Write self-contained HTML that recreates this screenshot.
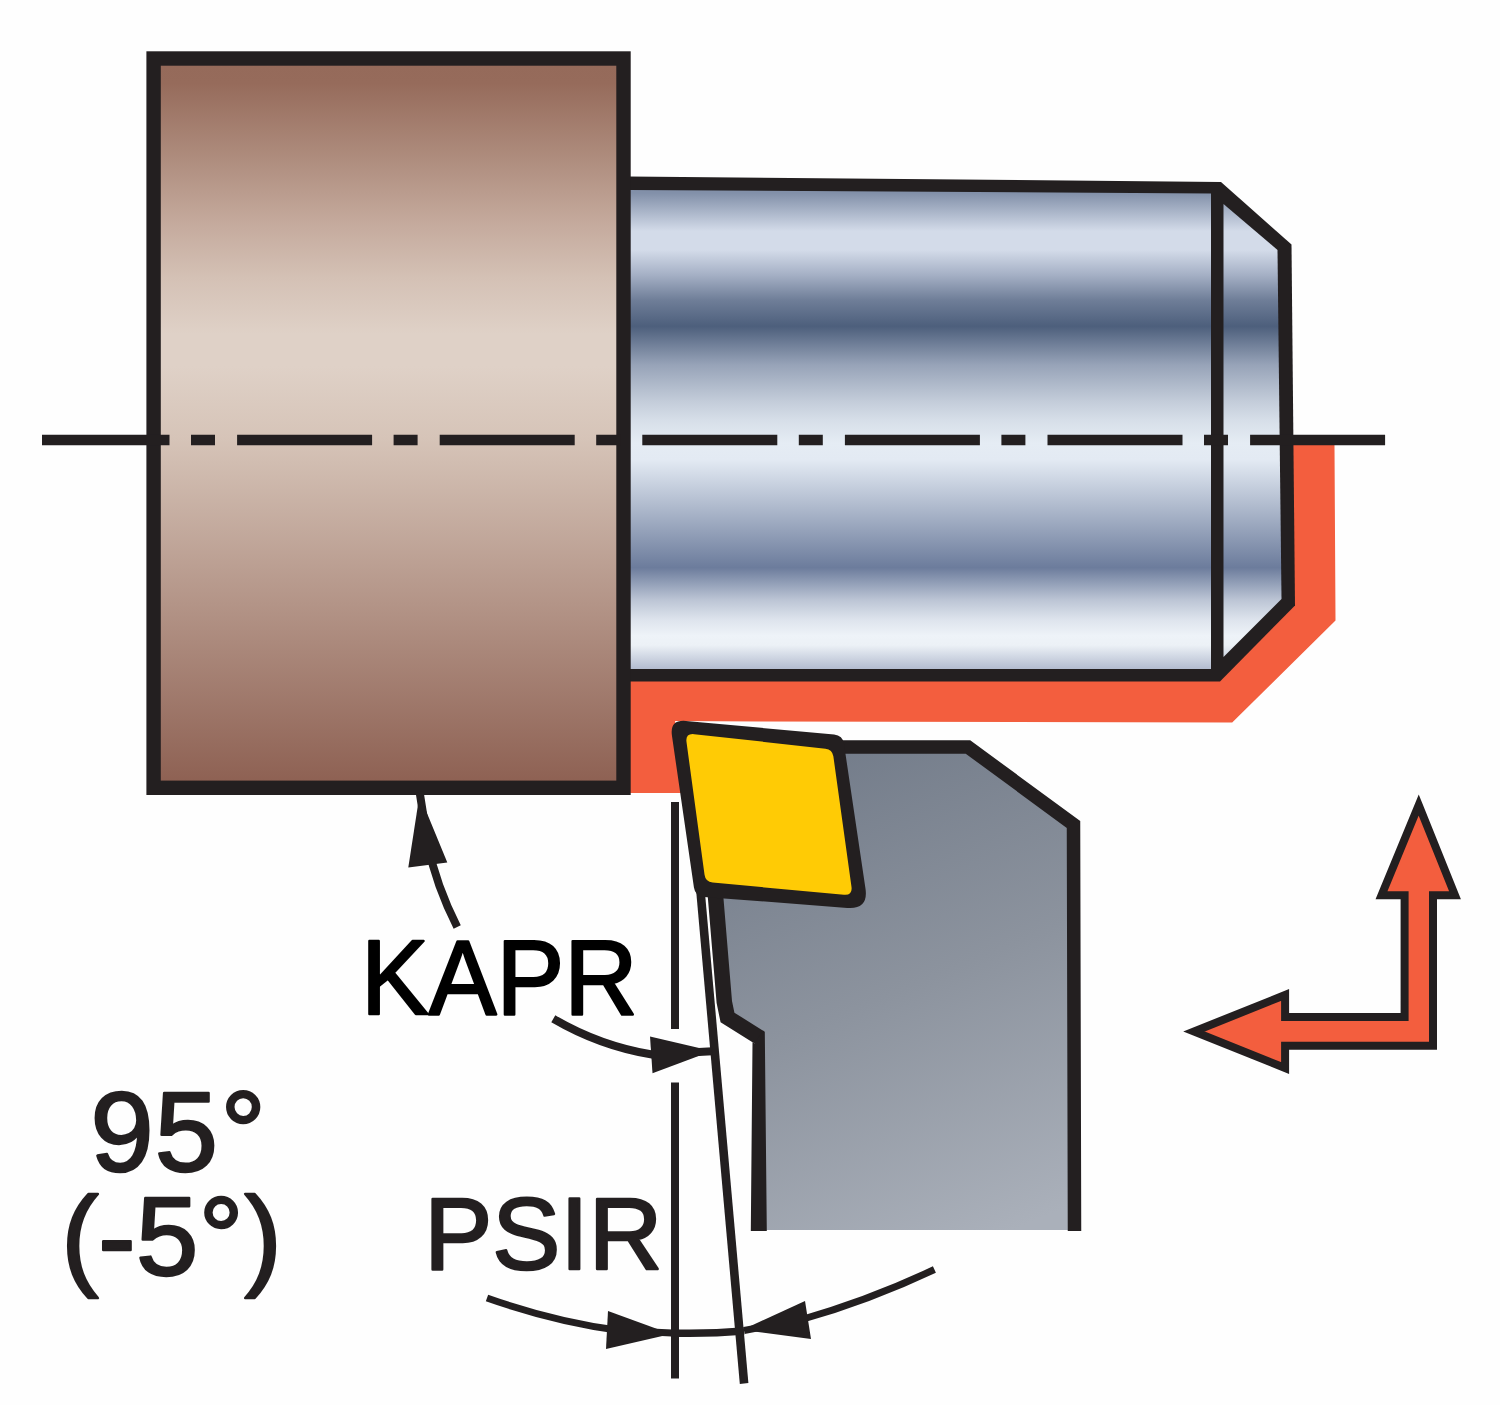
<!DOCTYPE html>
<html>
<head>
<meta charset="utf-8">
<title>KAPR / PSIR 95° (-5°)</title>
<style>
html,body{margin:0;padding:0;background:#fefefe;}
body{width:1500px;height:1405px;overflow:hidden;}
svg{display:block;}
text{font-family:"Liberation Sans",sans-serif;stroke-linejoin:round;}
</style>
</head>
<body>
<svg width="1500" height="1405" viewBox="0 0 1500 1405">
<defs>
<linearGradient id="brown" x1="0" y1="65" x2="0" y2="782" gradientUnits="userSpaceOnUse">
<stop offset="0" stop-color="#956a5a"/>
<stop offset="0.025" stop-color="#966b5b"/>
<stop offset="0.138" stop-color="#b08f80"/>
<stop offset="0.218" stop-color="#c4a99c"/>
<stop offset="0.297" stop-color="#d4c1b5"/>
<stop offset="0.375" stop-color="#dfd1c7"/>
<stop offset="0.42" stop-color="#dfd1c7"/>
<stop offset="0.52" stop-color="#d6c4b8"/>
<stop offset="1" stop-color="#8e6153"/>
</linearGradient>
<linearGradient id="steel" x1="0" y1="193" x2="0" y2="669" gradientUnits="userSpaceOnUse">
<stop offset="0" stop-color="#8290a9"/>
<stop offset="0.08" stop-color="#d3dbe9"/>
<stop offset="0.12" stop-color="#d3dbe9"/>
<stop offset="0.172" stop-color="#a5b0c5"/>
<stop offset="0.225" stop-color="#6f7e98"/>
<stop offset="0.28" stop-color="#4d5f7c"/>
<stop offset="0.361" stop-color="#97a3b8"/>
<stop offset="0.439" stop-color="#c4cdda"/>
<stop offset="0.479" stop-color="#d7dfe9"/>
<stop offset="0.525" stop-color="#e5ecf4"/>
<stop offset="0.56" stop-color="#e3eaf3"/>
<stop offset="0.787" stop-color="#6c7c9c"/>
<stop offset="0.855" stop-color="#bcc5d5"/>
<stop offset="0.897" stop-color="#dee4ed"/>
<stop offset="0.93" stop-color="#eef3f8"/>
<stop offset="0.95" stop-color="#ecf1f6"/>
<stop offset="1" stop-color="#b3bcd0"/>
</linearGradient>
<linearGradient id="holder" x1="800" y1="745" x2="1000" y2="1235" gradientUnits="userSpaceOnUse">
<stop offset="0" stop-color="#727b89"/>
<stop offset="0.5" stop-color="#8c939e"/>
<stop offset="1" stop-color="#aab0ba"/>
</linearGradient>
</defs>
<rect width="1500" height="1405" fill="#fefefe"/>

<!-- red cut area -->
<polygon points="628,676 1224,676 1288,600 1288,445 1334.5,445 1335.5,620.4 1232.2,722.5 760,721.4 675,721 690,793 628,793" fill="#f35e3e"/>

<!-- steel shaft -->
<polygon points="628,176.5 1221,182 1291.5,244.5 1295,605.5 1220,681.5 628,681.5" fill="#231f20"/>
<polygon points="628,190 1211,193.5 1211,669 628,669" fill="url(#steel)"/>
<polygon points="1223.5,204 1277.5,250 1281.5,599 1223.5,657" fill="url(#steel)"/>

<!-- brown block -->
<rect x="153.6" y="58.5" width="469.9" height="729.3" fill="url(#brown)" stroke="#231f20" stroke-width="14.4"/>

<!-- centre line -->
<line x1="42" y1="440" x2="1386" y2="440" stroke="#231f20" stroke-width="10.5" stroke-dasharray="135 21.5 24 22.1" stroke-dashoffset="7.5"/>

<!-- thin angle lines -->
<line x1="675" y1="802" x2="675" y2="1029" stroke="#231f20" stroke-width="8"/>
<line x1="675" y1="1082.5" x2="675" y2="1378.500" stroke="#231f20" stroke-width="8"/>
<line x1="692.6" y1="802" x2="744.1" y2="1383.5" stroke="#231f20" stroke-width="8.6"/>

<!-- tool holder -->
<polygon points="716,890 835,747 968,747 1073.5,824.5 1074.5,1230 759,1230 759,1037 728,1017.5" fill="url(#holder)"/>
<polyline points="835,747 968,747 1073.5,824.5 1074.5,1231" fill="none" stroke="#231f20" stroke-width="13.5" stroke-linejoin="miter"/>
<polyline points="715,890 724.3,1002 727.5,1017.5 759.8,1037.7" fill="none" stroke="#231f20" stroke-width="15.5" stroke-linejoin="miter"/>
<polygon points="762.8,1030.4 764.8,1031.65 766.8,1231 750.8,1231 752.5,1042.3 754.6,1043.6" fill="#231f20"/>

<!-- insert -->
<path d="M671.96,735.8 Q669.6,719.5 686,720.99 L834.08,734.42 Q842.7,735.2 843.97,743.76 L865.47,888.51 Q868.6,909.6 847.34,907.96 L703.98,896.88 Q695.2,896.2 693.94,887.49 Z" fill="#231f20"/>
<path d="M686.51,742.08 Q685.3,733.2 694.21,734.18 L825.43,748.63 Q832.4,749.4 833.36,756.34 L851.48,886.85 Q852.7,895.6 843.9,894.78 L712.62,882.56 Q705.5,881.9 704.54,874.81 Z" fill="#ffcb05"/>

<!-- direction arrows -->
<path d="M1418.7,805 L1455,895.2 L1433,895.2 L1433,1045.8 L1285.1,1045.8 L1285.1,1068 L1194,1031.5 L1285.1,995 L1285.1,1016.9 L1404.6,1016.9 L1404.6,895.2 L1381.5,895.2 Z" fill="#f35e3e" stroke="#231f20" stroke-width="8" stroke-linejoin="miter" stroke-miterlimit="6"/>

<!-- KAPR arrows -->
<path d="M457.2,927 Q436,885 428,845 L419.6,792" fill="none" stroke="#231f20" stroke-width="8"/>
<polygon points="419.5,795 447.3,862.5 408.3,867.5" fill="#231f20"/>
<path d="M553.3,1018.7 Q600,1046 652,1054.5 L712.5,1051.2" fill="none" stroke="#231f20" stroke-width="8"/>
<polygon points="712,1050.9 652.5,1073.3 650,1036.5" fill="#231f20"/>

<!-- PSIR arrows -->
<path d="M487,1298 Q555,1322 620,1330.5 L672,1333" fill="none" stroke="#231f20" stroke-width="7"/>
<polygon points="671,1334 606,1349 608,1311" fill="#231f20"/>
<path d="M934.4,1269.5 Q870,1300 800,1320 L744,1330.5" fill="none" stroke="#231f20" stroke-width="7"/>
<polygon points="742,1330 805,1301 811,1339" fill="#231f20"/>
<path d="M671,1333 Q708,1334 744,1331" fill="none" stroke="#231f20" stroke-width="7.5"/>

<!-- labels -->
<text id="t1" transform="translate(361,1014) scale(0.958,1)" x="0" y="0" font-size="106" fill="#000" stroke="#000" stroke-width="2.4">KAPR</text>
<text id="t2" x="424.3" y="1268.5" font-size="102" fill="#231f20" stroke="#231f20" stroke-width="2.5">PSIR</text>
<text id="t3" x="90.5 154.8 220.5" y="1171" font-size="113.5" fill="#231f20" stroke="#231f20" stroke-width="2.5">95°</text>
<text id="t4" x="61.2 98.2 136.1 198.8 244.4" y="1275.3" font-size="112" fill="#231f20" stroke="#231f20" stroke-width="2.5">(-5°)</text>
</svg>
</body>
</html>
